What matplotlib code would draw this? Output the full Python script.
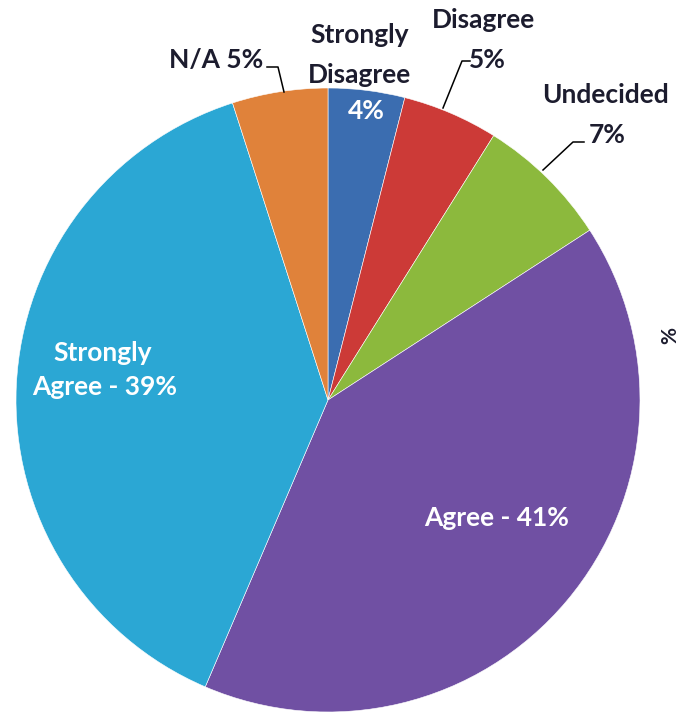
import matplotlib
matplotlib.use('Agg')
import matplotlib.pyplot as plt

# Данные
categories = ['Strongly Disagree', 'Disagree', 'Undecided', 'Agree', 'Strongly Agree', 'N/A']
values = [4, 5, 7, 41, 39, 5]
colors = ['#3b6db0', '#cc3a37', '#8cb93d', '#7050a3', '#2ba7d4', '#e0823a']

W, H = 679, 721
fig = plt.figure(figsize=(W / 100, H / 100), dpi=100)
ax = fig.add_axes([0, 0, 1, 1])

# Центр и радиус в пикселях (ось y вверх)
cx, cy, r = 328, H - 400, 312
ax.pie(values, colors=colors, startangle=90, counterclock=False,
       center=(cx, cy), radius=r, frame=True,
       wedgeprops=dict(edgecolor='white', linewidth=0.4))
ax.set_xlim(0, W)
ax.set_ylim(0, H)
ax.axis('off')

font = ['Lato', 'DejaVu Sans']
dark = '#1c1c2e'
fs = 19

def T(x, y, s, color=dark, size=fs):
    ax.text(x, H - y, s, fontsize=size, fontweight='bold', family=font,
            color=color, ha='center', va='center')

def L(pts):
    ax.plot([p[0] for p in pts], [H - p[1] for p in pts], color='black', lw=1.1)

# Подписи снаружи
T(216, 60, 'N/A 5%')
L([(267, 67), (278, 67), (284, 92)])
T(360, 35, 'Strongly')
T(360, 75, 'Disagree')
T(366, 111, '4%', color='white')
T(483, 20, 'Disagree')
T(487, 60, '5%')
L([(470, 61), (462, 61), (443, 108)])
T(606, 95, 'Undecided')
T(607, 135, '7%')
L([(584, 142), (573, 142), (543, 170)])

# Подписи внутри
T(103, 353, 'Strongly', color='white')
T(105, 387, 'Agree - 39%', color='white')
T(497, 518, 'Agree - 41%', color='white')

# обрезанный символ справа
ax.text(670, H - 335, '%', fontsize=15, fontweight='bold', family=font,
        color=dark, rotation=90, ha='center', va='center')

fig.savefig('out.png', dpi=100)
